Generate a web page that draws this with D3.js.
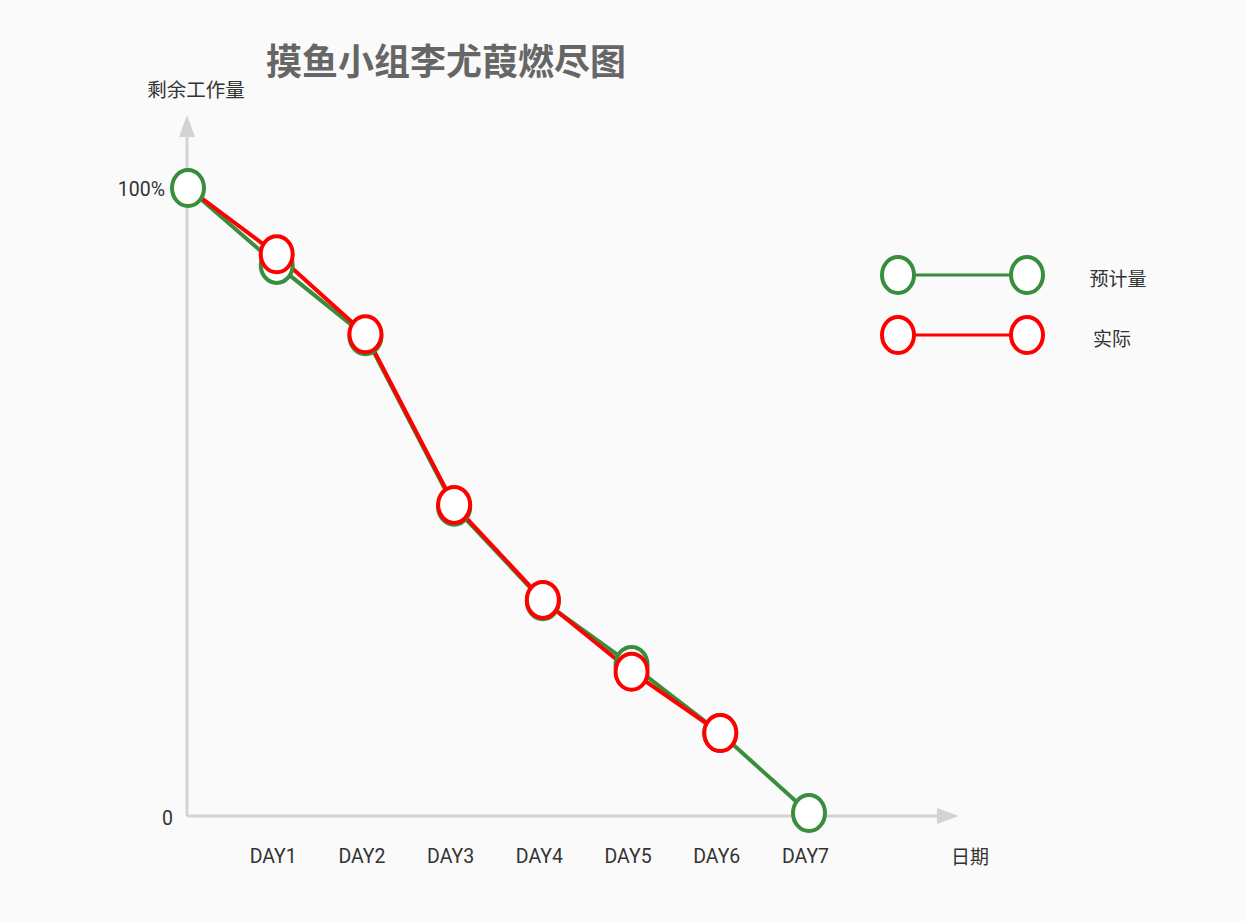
<!DOCTYPE html>
<html>
<head>
<meta charset="utf-8">
<script src="https://cdn.jsdelivr.net/npm/d3@7"></script>
<style>
  body { margin: 0; background: #fafafa; }
  text { font-family: "Noto Sans CJK SC", "Noto Sans", sans-serif; }
</style>
</head>
<body>
<div id="chart"></div>
<script>
var WD = 1246, HT = 921

// data
var days = [0, 1, 2, 3, 4, 5, 6, 7]
var dayLabels = ['', 'DAY1', 'DAY2', 'DAY3', 'DAY4', 'DAY5', 'DAY6', 'DAY7']
var planned = [100, 87.7, 76.3, 49.0, 33.9, 23.7, 12.8, 0]
var actual = [100, 89.4, 76.6, 49.3, 34.1, 22.6, 12.8]
var seriesNames = ['预计量', '实际']
var colors = ['#388e3c', '#ff0000']

var x = d3.scaleLinear().domain([0, 7]).range([188, 809])
var y = d3.scaleLinear().domain([0, 100]).range([813, 188])

var latin = "Roboto, 'Noto Sans CJK SC', sans-serif"

var svg = d3.select("#chart")
            .append("svg")
                .attr("width", WD)
                .attr("height", HT)

svg.append("rect").attr("width", WD).attr("height", HT).attr("fill", "#fafafa")

// title
svg.append("text")
    .attr("x", 446).attr("y", 75)
    .attr("text-anchor", "middle")
    .attr("font-size", 36).attr("font-weight", "bold")
    .attr("fill", "#666")
    .text("摸鱼小组李尤葭燃尽图")

// axes lines + arrows
var axisColor = '#d3d3d3'
var ax = x(0) - 1, ay = y(0) + 3
svg.append("line").attr("x1", ax).attr("y1", ay).attr("x2", ax).attr("y2", 135)
    .attr("stroke", axisColor).attr("stroke-width", 3)
svg.append("path").attr("d", "M" + (ax - 8) + ",137 L" + ax + ",115 L" + (ax + 8) + ",137 Z")
    .attr("fill", axisColor)
svg.append("line").attr("x1", ax).attr("y1", ay).attr("x2", 938).attr("y2", ay)
    .attr("stroke", axisColor).attr("stroke-width", 3)
svg.append("path").attr("d", "M937," + (ay - 8) + " L959," + ay + " L937," + (ay + 8) + " Z")
    .attr("fill", axisColor)

// y ticks
var yAxis = svg.append("g")
    .attr("transform", "translate(" + (ax - 22) + ",0)")
    .call(d3.axisLeft(y).tickValues([0, 100]).tickSize(0)
        .tickFormat(function(d){ return d == 100 ? '100%' : '0'; }))
yAxis.select(".domain").remove()
yAxis.selectAll("text").attr("font-size", 19.5).attr("fill", "#333")
    .style("font-family", latin)
    .attr("dx", function(d){ return d == 0 ? 11 : 3; })
    .attr("dy", function(d){ return d == 0 ? "0.6em" : "0.4em"; })

// x ticks
var xAxis = svg.append("g")
    .attr("transform", "translate(-4," + ay + ")")
    .call(d3.axisBottom(x).tickValues(days.slice(1)).tickSize(0).tickPadding(33)
        .tickFormat(function(d){ return dayLabels[d]; }))
xAxis.select(".domain").remove()
xAxis.selectAll("text").attr("font-size", 19.5).attr("fill", "#333")
    .style("font-family", latin)

// axis names
svg.append("text").attr("x", 196).attr("y", 97).attr("text-anchor", "middle")
    .attr("font-size", 19.5).attr("fill", "#333").text("剩余工作量")
svg.append("text").attr("x", 970).attr("y", 864).attr("text-anchor", "middle")
    .attr("font-size", 19).attr("fill", "#333").text("日期")

// lines
var line = d3.line()
    .x(function(d, i){ return x(days[i]); })
    .y(function(d){ return y(d); })

svg.append("path").datum(planned).attr("d", line)
    .attr("fill", "none").attr("stroke", colors[0]).attr("stroke-width", 4)
svg.append("path").datum(actual).attr("d", line)
    .attr("fill", "none").attr("stroke", colors[1]).attr("stroke-width", 4)

// markers
svg.selectAll(".pm").data(planned).enter().append("ellipse")
    .attr("class", "pm")
    .attr("cx", function(d, i){ return x(days[i]); })
    .attr("cy", function(d){ return y(d); })
    .attr("rx", 16).attr("ry", 18)
    .attr("fill", "#fff").attr("stroke", colors[0]).attr("stroke-width", 4)

svg.selectAll(".am").data(actual.slice(1)).enter().append("ellipse")
    .attr("class", "am")
    .attr("cx", function(d, i){ return x(days[i + 1]); })
    .attr("cy", function(d){ return y(d); })
    .attr("rx", 16).attr("ry", 18)
    .attr("fill", "#fff").attr("stroke", colors[1]).attr("stroke-width", 4)

// legend
var legendTextX = [1118, 1112]
var legend = svg.selectAll(".legend").data(seriesNames).enter().append("g")
    .attr("class", "legend")
    .attr("transform", function(d, i){ return "translate(0," + (275 + i * 60) + ")"; })

legend.append("line").attr("x1", 898).attr("x2", 1027)
    .attr("stroke", function(d, i){ return colors[i]; }).attr("stroke-width", 3)
legend.selectAll("ellipse").data(function(d, i){ return [[898, i], [1027, i]]; })
    .enter().append("ellipse")
    .attr("cx", function(d){ return d[0]; })
    .attr("rx", 16).attr("ry", 18)
    .attr("fill", "#fff").attr("stroke", function(d){ return colors[d[1]]; }).attr("stroke-width", 4)
legend.append("text")
    .attr("x", function(d, i){ return legendTextX[i]; }).attr("y", 3).attr("dy", "0.4em")
    .attr("text-anchor", "middle")
    .attr("font-size", 19).attr("fill", "#333")
    .text(function(d){ return d; })
</script>
</body>
</html>
